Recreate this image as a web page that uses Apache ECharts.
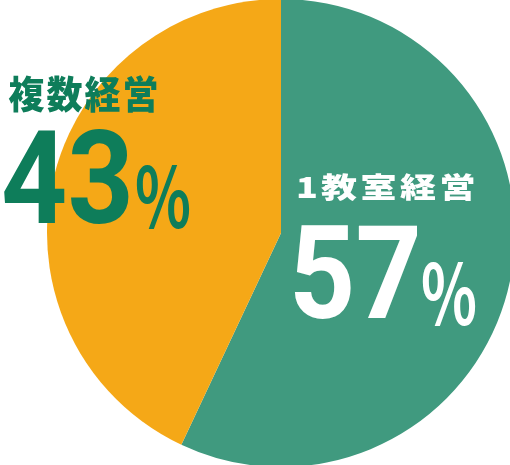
<!DOCTYPE html>
<html>
	<head>
		<meta charset="utf-8">
		<title>経営形態</title>
		<script src="https://cdn.jsdelivr.net/npm/echarts@6/dist/echarts.min.js"></script>
		<style>
			html, body { margin: 0; padding: 0; background: #fff; }
			#chart { width: 510px; height: 465px; }
		</style>
	</head>
	<body>
		<div id="chart"></div>
	</body>
	<script>
	// 経営形態の割合
	var names = ['1教室経営', '複数経営'];
	var values = [57, 43];
	var colors = ['#409a7f', '#f5a817'];

	var numFont = "Roboto, 'Liberation Sans', sans-serif";
	var jpFont = "'Noto Sans CJK JP', sans-serif";

	var chart = echarts.init(document.getElementById('chart'));

	// name is laid out char by char (letterSpacing is ignored)
	var nameChars = function (text, x, y, step, sy, color) {
		var out = [];
		var cx = x;
		for (var k = 0; k < text.length; k++) {
			var ch = text.charAt(k);
			out.push({ type: 'text', z: 100, x: cx, y: y, scaleY: sy, style: {
				text: ch, fill: color, font: '900 36px ' + jpFont,
				verticalAlign: 'middle'
			} });
			cx += /[\x00-\x7f]/.test(ch) ? step * 0.63 : step;
		}
		return out;
	};

	// label: name / number / percent
	// p = [nameX, nameY, step, scaleY, numX, numY, pctX, pctY]
	var labelText = function (i, p, color) {
		return nameChars(names[i], p[0], p[1], p[2], p[3], color).concat([
			{ type: 'text', z: 100, x: p[4], y: p[5], scaleX: 0.89, style: {
				text: String(values[i]), fill: color, font: 'bold 130px ' + numFont,
				verticalAlign: 'top'
			} },
			{ type: 'text', z: 100, x: p[6], y: p[7], scaleX: 0.7, style: {
				text: '%', fill: color, font: 'bold 83px ' + jpFont,
				verticalAlign: 'top'
			} }
		]);
	};

	var option = {
		animation: false,
		series: [{
			type: 'pie',
			center: [281, 233],
			radius: [0, 234],
			startAngle: 90,
			clockwise: true,
			silent: true,
			label: { show: false },
			labelLine: { show: false },
			data: names.map(function (n, i) {
				return { name: n, value: values[i], itemStyle: { color: colors[i] } };
			})
		}],
		graphic: labelText(1, [8.5, 94, 38, 1.05, 1, 125, 135, 155], '#0e7d5a')
			.concat(labelText(0, [296, 187, 39.5, 0.8, 289, 220, 421, 252], '#ffffff'))
	};
	chart.setOption(option);
	</script>
</html>
